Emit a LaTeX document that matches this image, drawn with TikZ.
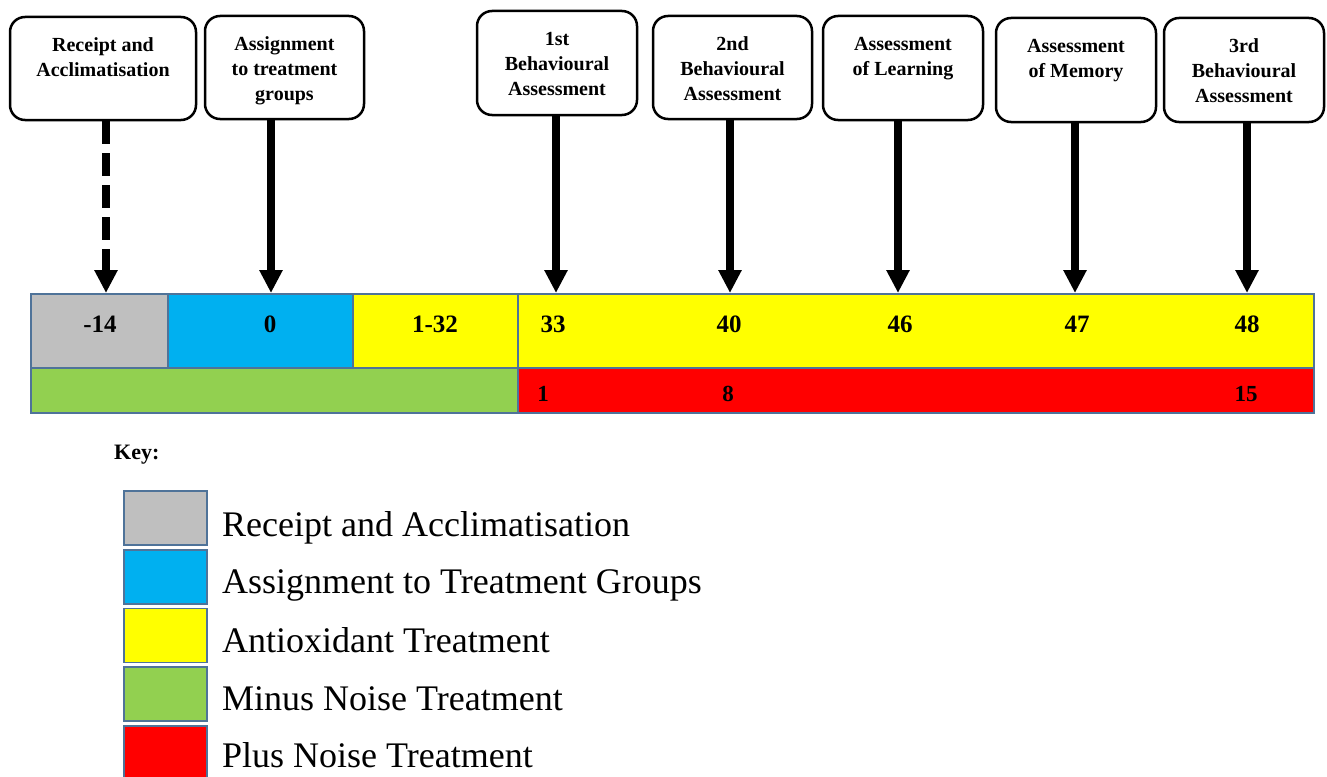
\documentclass[tikz,border=0pt]{standalone}
\usepackage{fontspec}
\setmainfont{Liberation Serif}
\usetikzlibrary{arrows.meta}
\definecolor{graycell}{HTML}{BFBFBF}
\definecolor{bluecell}{HTML}{00B0F0}
\definecolor{yellowcell}{HTML}{FFFF00}
\definecolor{greencell}{HTML}{92D050}
\definecolor{redcell}{HTML}{FF0000}
\definecolor{edgeblue}{HTML}{4F7399}
\begin{document}
\begin{tikzpicture}[x=1pt,y=-1pt,
  evbox/.style={draw=black, line width=2.5pt, rounded corners=15pt, fill=white, inner sep=0pt},
  evtext/.style={font=\bfseries\fontsize{20}{25}\selectfont, align=center, inner sep=0pt, anchor=north},
  cell/.style={draw=edgeblue, line width=1.5pt, inner sep=0pt},
  numA/.style={font=\bfseries\fontsize{25}{30}\selectfont, inner sep=0pt, anchor=base},
  numB/.style={font=\bfseries\fontsize{23}{27}\selectfont, inner sep=0pt, anchor=base},
  arr/.style={line width=8pt, -{Triangle[width=22pt,length=23pt]}},
  dasharr/.style={arr, dash pattern=on 23pt off 9pt},
  keytext/.style={font=\fontsize{36}{42}\selectfont, inner sep=0pt, anchor=base west},
  keytitle/.style={font=\bfseries\fontsize{22}{26}\selectfont, inner sep=0pt, anchor=base west}
]
\useasboundingbox (0,0) rectangle (1327,776);

% event boxes
\node[evbox, minimum width=186, minimum height=103] (b1) at (103,68.5) {};
\node[evbox, minimum width=159, minimum height=103] (b2) at (284.5,67.5) {};
\node[evbox, minimum width=160, minimum height=104] (b3) at (557,63) {};
\node[evbox, minimum width=159, minimum height=103] (b4) at (732.5,67.5) {};
\node[evbox, minimum width=160, minimum height=104] (b5) at (903,68) {};
\node[evbox, minimum width=160, minimum height=104] (b6) at (1076,70) {};
\node[evbox, minimum width=160, minimum height=104] (b7) at (1244,70) {};

\node[evtext] (t1) at ([yshift=-18pt]b1.north) {\strut Receipt and\\Acclimatisation};
\node[evtext] (t2) at ([yshift=-18pt]b2.north) {\strut Assignment\\to treatment\\groups};
\node[evtext] (t3) at ([yshift=-18pt]b3.north) {\strut 1st\\Behavioural\\Assessment};
\node[evtext] (t4) at ([yshift=-18pt]b4.north) {\strut 2nd\\Behavioural\\Assessment};
\node[evtext] (t5) at ([yshift=-18pt]b5.north) {\strut Assessment\\of Learning};
\node[evtext] (t6) at ([yshift=-18pt]b6.north) {\strut Assessment\\of Memory};
\node[evtext] (t7) at ([yshift=-18pt]b7.north) {\strut 3rd\\Behavioural\\Assessment};

% timeline cells
\node[cell, fill=graycell, minimum width=137, minimum height=74] (cg) at (99.5,331) {};
\node[cell, fill=bluecell, minimum width=185, minimum height=74] (cb) at (260.5,331) {};
\node[cell, fill=yellowcell, minimum width=165, minimum height=74] (cy1) at (435.5,331) {};
\node[cell, fill=yellowcell, minimum width=796, minimum height=74] (cy2) at (916,331) {};
\node[cell, fill=greencell, minimum width=487, minimum height=45] (cgr) at (274.5,390.5) {};
\node[cell, fill=redcell, minimum width=796, minimum height=45] (cr) at (916,390.5) {};

% numbers
\node[numA] (n1) at (100,332) {-14};
\node[numA] (n2) at (270,332) {0};
\node[numA] (n3) at (435,332) {1-32};
\node[numA] (n4) at (553,332) {33};
\node[numA] (n5) at (729,332) {40};
\node[numA] (n6) at (900,332) {46};
\node[numA] (n7) at (1077,332) {47};
\node[numA] (n8) at (1247,332) {48};
\node[numB] (m1) at (543,401) {1};
\node[numB] (m2) at (728,401) {8};
\node[numB] (m3) at (1246,401) {15};

% arrows
\coordinate (p1) at (106,293);
\coordinate (p2) at (271,293);
\coordinate (p3) at (556,293);
\coordinate (p4) at (730,293);
\coordinate (p5) at (898,293);
\coordinate (p6) at (1075,293);
\coordinate (p7) at (1247,293);
\draw[dasharr] (b1.south -| p1) -- (p1);
\draw[arr] (b2.south -| p2) -- (p2);
\draw[arr] (b3.south -| p3) -- (p3);
\draw[arr] (b4.south -| p4) -- (p4);
\draw[arr] (b5.south -| p5) -- (p5);
\draw[arr] (b6.south -| p6) -- (p6);
\draw[arr] (b7.south -| p7) -- (p7);

% key
\node[keytitle] (key) at (114,459) {Key:};
\node[cell, fill=graycell, minimum width=83, minimum height=54] (k1) at (165.5,518) {};
\node[cell, fill=bluecell, minimum width=83, minimum height=54] (k2) at (165.5,577) {};
\node[cell, fill=yellowcell, minimum width=83, minimum height=54] (k3) at (165.5,635.5) {};
\node[cell, fill=greencell, minimum width=83, minimum height=54] (k4) at (165.5,694) {};
\node[cell, fill=redcell, minimum width=83, minimum height=54] (k5) at (165.5,753) {};
\node[keytext] (l1) at (222,536) {Receipt and Acclimatisation};
\node[keytext] (l2) at (222,593) {Assignment to Treatment Groups};
\node[keytext] (l3) at (222,652) {Antioxidant Treatment};
\node[keytext] (l4) at (222,710) {Minus Noise Treatment};
\node[keytext] (l5) at (222,767) {Plus Noise Treatment};
\end{tikzpicture}
\end{document}
